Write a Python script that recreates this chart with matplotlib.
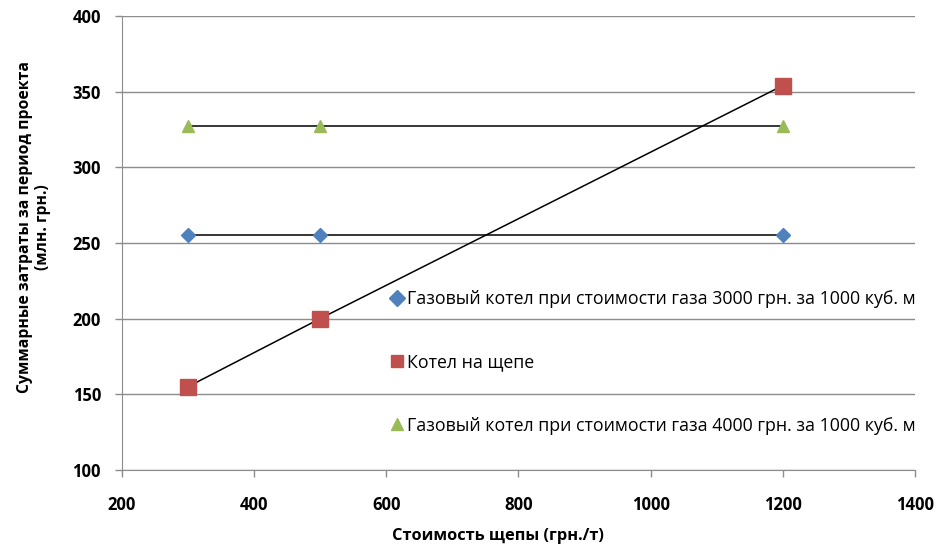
import numpy as np
import matplotlib.pyplot as plt

plt.rcParams['font.family'] = ['Open Sans', 'DejaVu Sans']

# Стоимость щепы, грн./т
chip_price = [300, 500, 1200]
# Суммарные затраты, млн. грн.
gas_3000 = [255, 255, 255]
chip_boiler = [155, 200, 354]
gas_4000 = [327, 327, 327]

labels = ['Газовый котел при стоимости газа 3000 грн. за 1000 куб. м',
          'Котел на щепе',
          'Газовый котел при стоимости газа 4000 грн. за 1000 куб. м']

fig = plt.figure(figsize=(9.37, 5.5), dpi=100)
ax = fig.add_axes([0.130, 0.1455, 0.8465, 0.8255])

# black trend lines behind the markers
for y in (gas_3000, chip_boiler, gas_4000):
    ax.plot(chip_price, y, color='black', lw=1.1, zorder=2)

ax.plot(chip_price, gas_3000, 'D', color='#4F81BD', ms=7, label=labels[0], zorder=3)
ax.plot(chip_price, chip_boiler, 's', color='#C0504D', ms=11, label=labels[1], zorder=3)
ax.plot(chip_price, gas_4000, '^', color='#9BBB59', ms=9, label=labels[2], zorder=3)

ax.set_xlim(200, 1400)
ax.set_ylim(100, 400)
ax.set_xticks(np.arange(200, 1401, 200))
ax.set_yticks(np.arange(100, 401, 50))
ax.grid(axis='y', color='#8c8c8c', lw=1)
ax.set_axisbelow(True)

for s in ('top', 'right'):
    ax.spines[s].set_visible(False)
for s in ('left', 'bottom'):
    ax.spines[s].set_color('#8c8c8c')
ax.tick_params(colors='#8c8c8c', length=5, width=1, labelsize=12)
for lab in ax.get_xticklabels() + ax.get_yticklabels():
    lab.set_color('black')
    lab.set_fontweight('bold')
ax.tick_params(axis='x', pad=14)
ax.tick_params(axis='y', pad=10)

ax.set_xlabel('Стоимость щепы (грн./т)', fontsize=11.8, fontweight='bold')
ax.set_ylabel('Суммарные затраты за период проекта\n(млн. грн.)', fontsize=11.3,
              fontweight='bold')
ax.xaxis.set_label_coords(0.474, -0.128)
ax.yaxis.set_label_coords(-0.089, 0.535)

leg = ax.legend(loc='upper left', bbox_to_anchor=(0.331, 0.412), frameon=False,
                fontsize=12.8, labelspacing=2.55, handlelength=0.6, handletextpad=0.3,
                borderaxespad=0)
for h in leg.legend_handles:
    h.set_markersize(8)

fig.savefig('out.png', dpi=100)
